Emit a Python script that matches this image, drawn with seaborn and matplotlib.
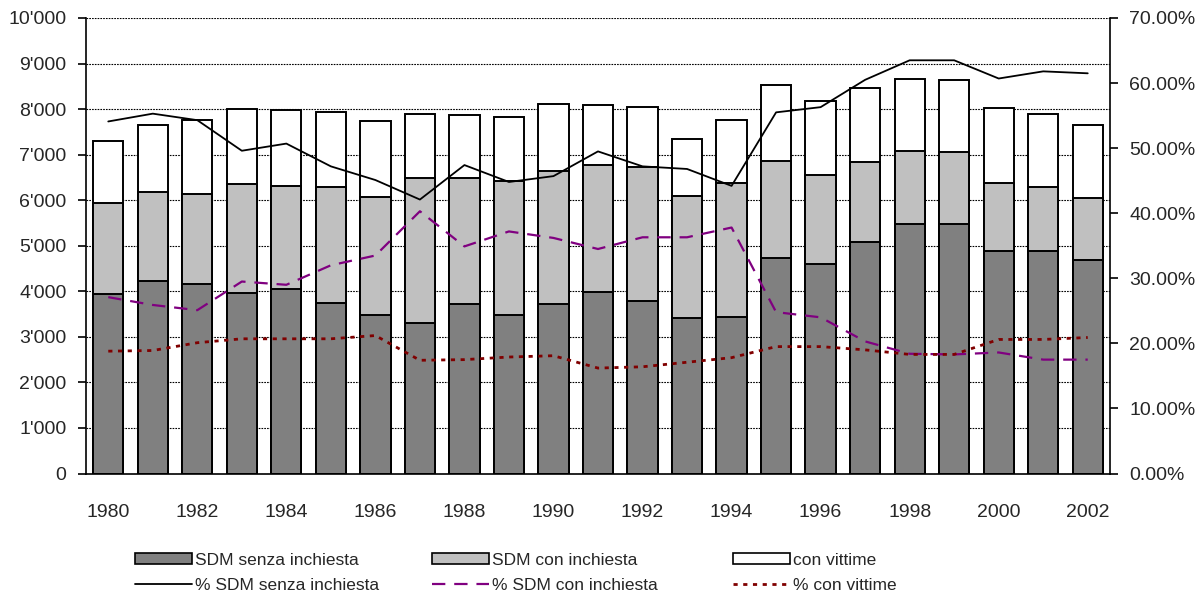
import numpy as np
import matplotlib
matplotlib.use("Agg")
import matplotlib.pyplot as plt
import seaborn as sns
from matplotlib.patches import Patch
from matplotlib.lines import Line2D
from matplotlib.ticker import FuncFormatter, MultipleLocator, FixedLocator

# Data
years = list(range(1980, 2003))
senza = [3930, 4220, 4170, 3970, 4040, 3750, 3480, 3300, 3720, 3480, 3720, 3980,
         3790, 3410, 3440, 4740, 4600, 5090, 5480, 5480, 4880, 4880, 4680]
con = [2000, 1960, 1970, 2390, 2280, 2540, 2590, 3190, 2770, 2950, 2920, 2800,
       2940, 2690, 2940, 2110, 1960, 1750, 1610, 1570, 1500, 1410, 1360]
vittime = [1370, 1470, 1620, 1640, 1650, 1640, 1660, 1410, 1380, 1400, 1470, 1300,
           1310, 1240, 1380, 1690, 1620, 1620, 1580, 1590, 1650, 1610, 1610]
pct_senza = [54.1, 55.3, 54.3, 49.6, 50.7, 47.2, 45.1, 42.1, 47.4, 44.8, 45.7, 49.5,
             47.2, 46.8, 44.2, 55.5, 56.3, 60.5, 63.5, 63.5, 60.7, 61.8, 61.5]
pct_con = [27.1, 25.9, 25.1, 29.5, 29.0, 32.0, 33.5, 40.3, 34.9, 37.2, 36.2, 34.5,
           36.3, 36.3, 37.8, 24.8, 24.0, 20.3, 18.4, 18.3, 18.6, 17.5, 17.5]
pct_vittime = [18.8, 18.9, 20.1, 20.7, 20.7, 20.7, 21.2, 17.4, 17.5, 17.9, 18.1, 16.2,
               16.4, 17.1, 17.8, 19.5, 19.5, 19.0, 18.3, 18.3, 20.6, 20.6, 20.9]

sns.set_style("white")
plt.rcParams["font.family"] = ["Liberation Sans", "DejaVu Sans"]

fig = plt.figure(figsize=(11.98, 5.94), dpi=100)
ax = fig.add_axes([86 / 1198, 1 - 473.5 / 594, 1024 / 1198, 455.5 / 594])

labels = [str(y) for y in years]
x = np.arange(len(years))
lower = np.array(senza)
middle = lower + np.array(con)
total = middle + np.array(vittime)

# stacked bars drawn as overlapping cumulative bars
for vals, col in [(total, "white"), (middle, "#c0c0c0"), (lower, "#808080")]:
    sns.barplot(x=labels, y=vals, color=col, edgecolor="black", linewidth=1.4,
                width=0.68, saturation=1, ax=ax, zorder=2)

ax.set_xlim(-0.5, len(years) - 0.5)
ax.set_ylim(0, 10000)
ax.yaxis.set_major_locator(MultipleLocator(1000))
ax.yaxis.set_major_formatter(FuncFormatter(lambda v, p: f"{v:,.0f}".replace(",", "'")))
ax.grid(axis="y", color="black", linestyle=(0, (1.5, 1)), linewidth=0.8)
ax.set_axisbelow(True)
ax.xaxis.set_major_locator(FixedLocator(x[::2]))
ax.set_xticklabels(labels[::2])
ax.xaxis.set_minor_locator(FixedLocator(np.arange(-0.5, len(years), 1.0)))
ax.tick_params(axis="x", which="major", length=0, labelsize=14, pad=22)
ax.tick_params(axis="x", which="minor", length=6, width=1.2, color="black", direction="out")
ax.tick_params(axis="y", length=6, width=1.2, color="black", direction="out", labelsize=14, pad=8)
ax.set_xlabel("")
ax.set_ylabel("")
for s in ["left", "bottom"]:
    ax.spines[s].set_color("black")
    ax.spines[s].set_linewidth(1.2)
ax.spines["top"].set_visible(False)
ax.spines["right"].set_visible(False)

ax2 = ax.twinx()
sns.lineplot(x=x, y=pct_senza, color="black", linewidth=1.3, ax=ax2)
sns.lineplot(x=x, y=pct_con, color="#800080", linewidth=1.6, ax=ax2,
             linestyle=(0, (6, 4)))
sns.lineplot(x=x, y=pct_vittime, color="#800000", linewidth=2.0, ax=ax2,
             linestyle=(0, (1.5, 2)))
ax2.set_ylim(0, 70)
ax2.set_xlim(-0.5, len(years) - 0.5)
ax2.yaxis.set_major_locator(MultipleLocator(10))
ax2.yaxis.set_major_formatter(FuncFormatter(lambda v, p: f"{v:.2f}%"))
ax2.tick_params(axis="y", length=6, width=1.2, color="black", direction="out", labelsize=14, pad=8)
ax2.set_ylabel("")
for s in ["left", "top", "bottom"]:
    ax2.spines[s].set_visible(False)
ax2.spines["right"].set_color("black")
ax2.spines["right"].set_linewidth(1.2)

# legend: three columns, each with the bar and its percentage line
columns = [
    (119, ["SDM senza inchiesta", "% SDM senza inchiesta"],
     [Patch(facecolor="#808080", edgecolor="black", linewidth=1.2),
      Line2D([], [], color="black", linewidth=1.3)]),
    (416, ["SDM con inchiesta", "% SDM con inchiesta"],
     [Patch(facecolor="#c0c0c0", edgecolor="black", linewidth=1.2),
      Line2D([], [], color="#800080", linewidth=1.6, linestyle=(0, (6, 4)))]),
    (717, ["con vittime", "% con vittime"],
     [Patch(facecolor="white", edgecolor="black", linewidth=1.2),
      Line2D([], [], color="#800000", linewidth=2.0, linestyle=(0, (1.5, 2)))]),
]
for xpos, names, handles in columns:
    fig.legend(handles, names, loc="lower left", bbox_to_anchor=(xpos / 1198, -0.025),
               frameon=False, fontsize=12.5, handlelength=3.3, handleheight=0.6,
               handletextpad=0.2, labelspacing=0.6)

fig.savefig("out.png", dpi=100)
